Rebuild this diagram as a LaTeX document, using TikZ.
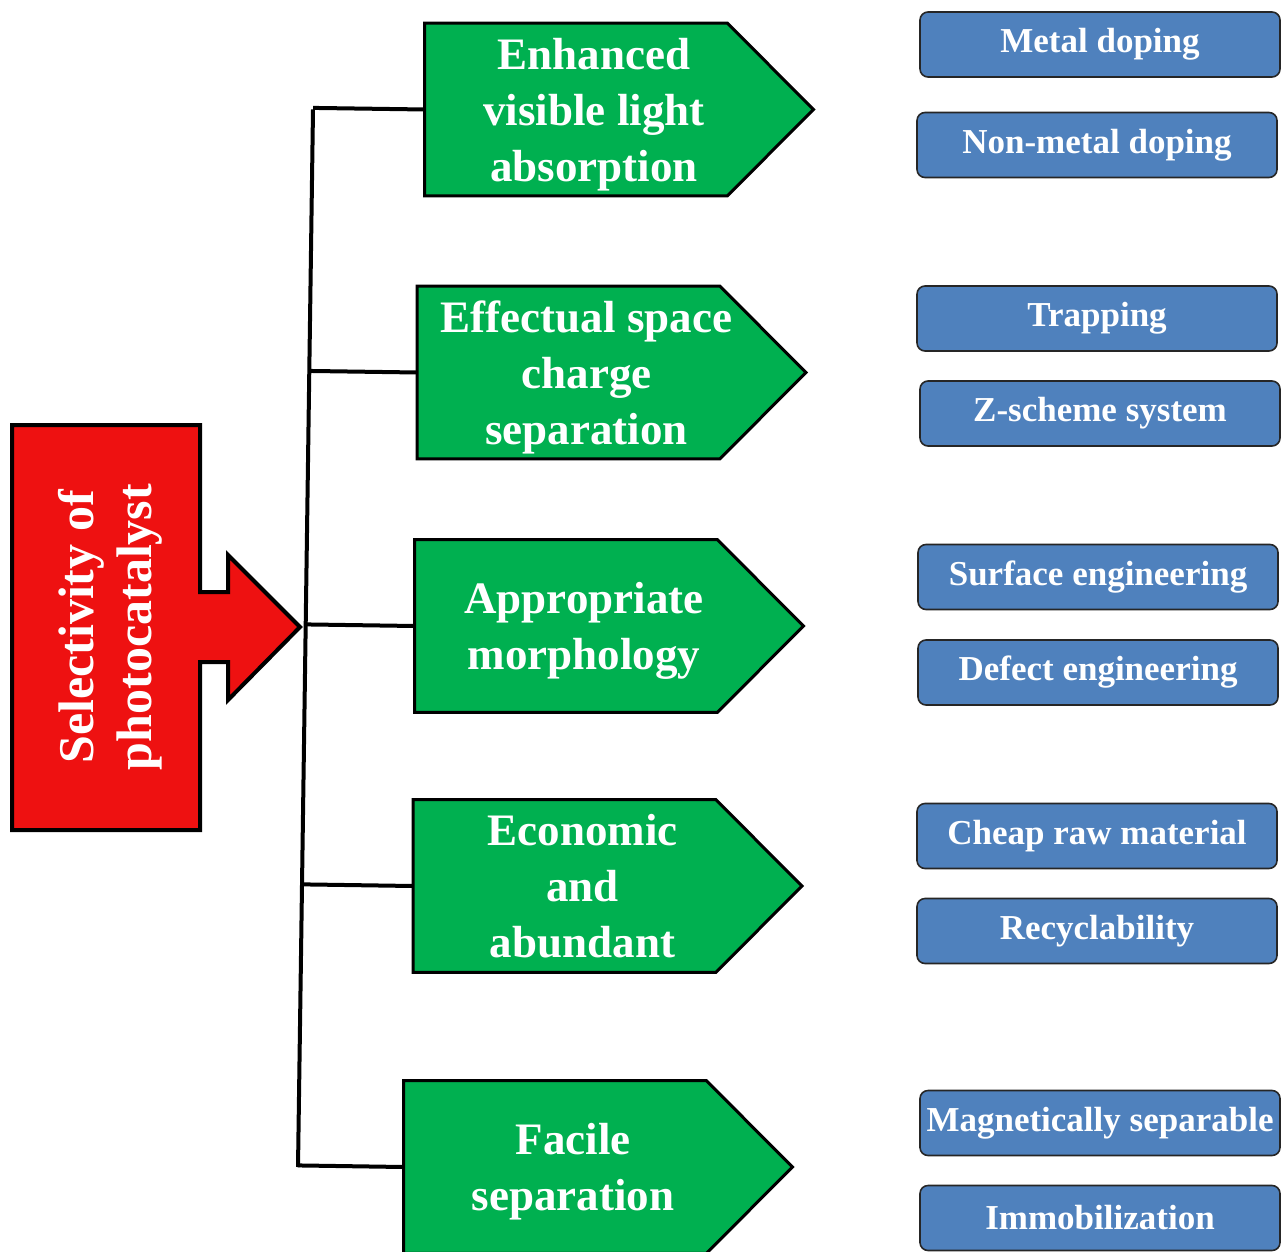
\documentclass[tikz,border=0pt]{standalone}
\usepackage{fontspec}
\setmainfont{Liberation Serif}
\usetikzlibrary{positioning,calc,backgrounds}
\definecolor{SelRed}{HTML}{EE1111}
\definecolor{AspGreen}{HTML}{00B050}
\definecolor{WayBlue}{HTML}{4F81BD}

\begin{document}
\begin{tikzpicture}[x=0.5pt,y=-0.5pt,
  aspect/.style={minimum width=169pt,minimum height=86pt,inner sep=0pt,text depth=0pt,align=center,text=white,font=\fontsize{22.5}{28}\selectfont\bfseries},
  aspectshape/.style={fill=AspGreen,draw=black,line width=1.5pt},
  way/.style={draw=black!85,fill=WayBlue,rounded corners=4pt,line width=0.8pt,minimum width=180pt,minimum height=32.5pt,inner sep=0pt,text=white,font=\fontsize{17.5}{20}\selectfont\bfseries},
  link/.style={line width=2pt}]
  \useasboundingbox (0,0) rectangle (1283,1251);

  % central box with its arrow
  \draw[fill=SelRed,line width=2pt] (12,425) -- (200,425) -- (200,592) -- (228,592) -- (228,555) -- (300,627)
    -- (228,700) -- (228,662) -- (200,662) -- (200,830) -- (12,830) -- cycle;
  \node[rotate=90,align=center,text=white,font=\fontsize{25}{29}\selectfont\bfseries] (sel) at (110,627) {Selectivity of\\photocatalyst};

  % trunk
  \coordinate (ttop) at (313,109.5);
  \coordinate (tbot) at (298,1167);
  \draw[link] (ttop) -- (tbot);

  % aspects
  \node[aspect] (g1) at (594,109.5) {Enhanced\\visible light\\absorption};
  \node[aspect] (g2) at (586.5,372.5) {Effectual space\\charge\\separation};
  \node[aspect] (g3) at (584,626) {Appropriate\\morphology};
  \node[aspect] (g4) at (582.5,886) {Economic\\and\\abundant};
  \node[aspect] (g5) at (573,1167) {Facile\\separation};

  \begin{scope}[on background layer]
    \foreach \g in {g1,g2,g3,g4,g5}
      \draw[aspectshape] (\g.north west) -- ([xshift=-18pt]\g.north east) -- ([xshift=25pt]\g.east)
        -- ([xshift=-18pt]\g.south east) -- (\g.south west) -- cycle;
  \end{scope}
  \foreach \g in {g1,g2,g3,g4,g5}
    \draw[link] ($(ttop)!(\g.west)!(tbot)$) -- (\g.west);

  % ways
  \node[way] (b1) at (1100,44.5) {Metal doping};
  \node[way] (b2) at (1097,145) {Non-metal doping};
  \node[way] (b3) at (1097,318.5) {Trapping};
  \node[way] (b4) at (1100,413.5) {Z-scheme system};
  \node[way] (b5) at (1098,577) {Surface engineering};
  \node[way] (b6) at (1098,672.5) {Defect engineering};
  \node[way] (b7) at (1097,836) {Cheap raw material};
  \node[way] (b8) at (1097,931) {Recyclability};
  \node[way] (b9) at (1100,1123) {Magnetically separable};
  \node[way] (b10) at (1100,1218) {Immobilization};
\end{tikzpicture}
\end{document}
